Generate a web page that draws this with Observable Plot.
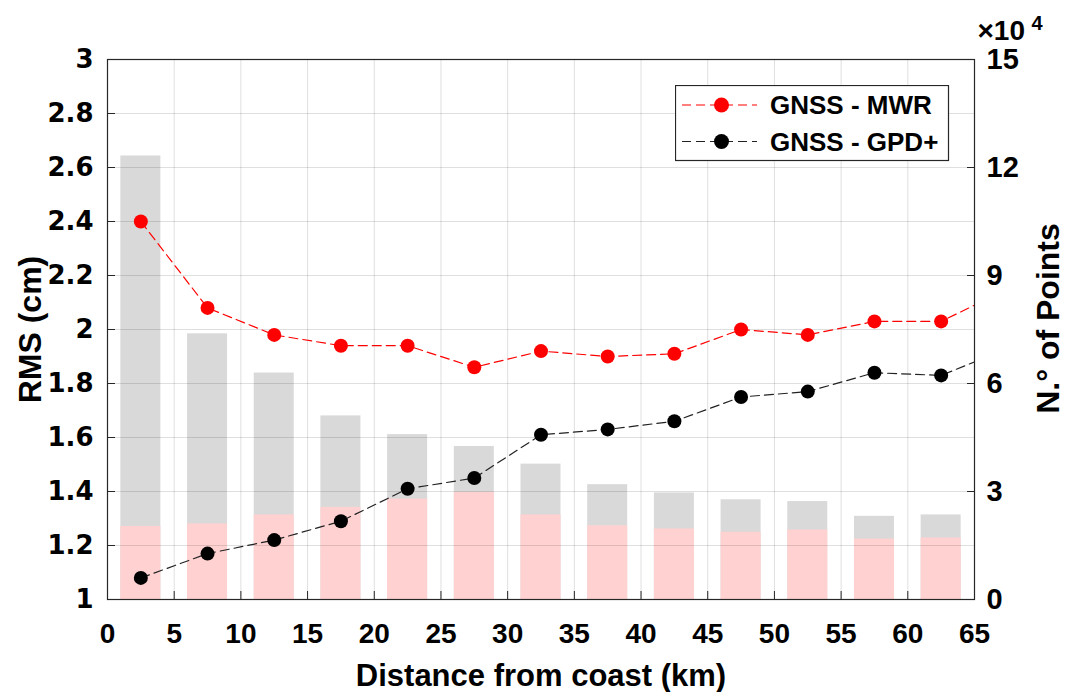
<!DOCTYPE html>
<html><head><meta charset="utf-8">
<script src="https://cdn.jsdelivr.net/npm/d3@7"></script>
<script src="https://cdn.jsdelivr.net/npm/@observablehq/plot@0.6"></script>
<style>
html,body{margin:0;padding:0;background:#fff;}
#wrap{position:relative;width:1067px;height:692px;}
#legend{position:absolute;left:675px;top:85px;}
</style></head><body><div id="wrap"></div>
<script>
// ---- data ----
const distance = [2.5, 7.5, 12.5, 17.5, 22.5, 27.5, 32.5, 37.5, 42.5, 47.5, 52.5, 57.5, 62.5];
const totalPoints = [123200, 73800, 62900, 51000, 45800, 42500, 37600, 31900, 29600, 27700, 27200, 23100, 23500];
const pinkPoints  = [20300, 21000, 23500, 25600, 27900, 29800, 23500, 20500, 19600, 18700, 19300, 16800, 17100];
const lineDistance = [2.5, 7.5, 12.5, 17.5, 22.5, 27.5, 32.5, 37.5, 42.5, 47.5, 52.5, 57.5, 62.5, 67.5];
const rmsMWR = [2.40, 2.08, 1.98, 1.94, 1.94, 1.86, 1.92, 1.90, 1.91, 2.00, 1.98, 2.03, 2.03, 2.15];
const rmsGPD = [1.08, 1.17, 1.22, 1.29, 1.41, 1.45, 1.61, 1.63, 1.66, 1.75, 1.77, 1.84, 1.83, 1.93];
const xTicks = [0, 5, 10, 15, 20, 25, 30, 35, 40, 45, 50, 55, 60, 65];
const yTicks = [1, 1.2, 1.4, 1.6, 1.8, 2, 2.2, 2.4, 2.6, 2.8, 3];
const countTicks = [0, 3, 6, 9, 12, 15]; // ×10^4
const seriesNames = ["GNSS - MWR", "GNSS - GPD+"];
const seriesColors = ["#ff0000", "#000000"];

// right axis (counts 0..15e4) maps onto the left RMS range 1..3
const countMax = 15e4;
const toLeft = c => 1 + c / countMax * 2;
const fromLeft = v => (v - 1) / 2 * countMax;

const bars = distance.map((d, i) => ({d, total: totalPoints[i], pink: pinkPoints[i]}));
const lines = lineDistance.map((d, i) => ({d, mwr: rmsMWR[i], gpd: rmsGPD[i]}));

const FONT = "'Liberation Sans', Arial, sans-serif";
const grid = {stroke: "#262626", strokeOpacity: 0.15, strokeWidth: 1};

const chart = Plot.plot({
  width: 1067, height: 692,
  marginLeft: 107, marginRight: 93, marginTop: 59, marginBottom: 93,
  x: {domain: [0, 65]},
  y: {domain: [1, 3]},
  style: {fontFamily: FONT, fontWeight: "bold", fontSize: "28px", color: "#000", background: "#fff", overflow: "visible"},
  marks: [
    Plot.rectY(bars, {x1: d => d.d - 1.5, x2: d => d.d + 1.5, y1: 1, y2: d => toLeft(d.total), fill: "#d9d9d9"}),
    Plot.rectY(bars, {x1: d => d.d - 1.5, x2: d => d.d + 1.5, y1: 1, y2: d => toLeft(d.pink), fill: "#ffd1d1"}),
    Plot.gridX(xTicks, grid),
    Plot.gridY(yTicks, grid),
    Plot.line(lines, {x: "d", y: "mwr", stroke: seriesColors[0], strokeWidth: 1.2, strokeDasharray: "9,5", clip: true}),
    Plot.dot(lines, {x: "d", y: "mwr", r: 7, fill: seriesColors[0], clip: true}),
    Plot.line(lines, {x: "d", y: "gpd", stroke: "#222", strokeWidth: 1.2, strokeDasharray: "9,5", clip: true}),
    Plot.dot(lines, {x: "d", y: "gpd", r: 7, fill: seriesColors[1], clip: true}),
    Plot.frame({stroke: "#262626", strokeWidth: 1.2}),
    Plot.axisX(xTicks, {tickSize: -8, tickPadding: 32, fontSize: 28, fontFamily: FONT, fontWeight: "bold", label: null, stroke: "#262626"}),
    Plot.axisY(yTicks, {anchor: "left", tickSize: -8, tickPadding: 22, fontSize: 26, fontFamily: "'DejaVu Sans', sans-serif", fontWeight: "bold", label: null, stroke: "#262626",
      tickFormat: v => String(v)}),
    Plot.axisY(countTicks.map(c => toLeft(c * 1e4)), {anchor: "right", tickSize: -8, tickPadding: 20, fontSize: 29, fontFamily: FONT, fontWeight: "bold", label: null, stroke: "#262626",
      tickFormat: v => String(Math.round(fromLeft(v) / 1e4))}),
    Plot.text(["Distance from coast (km)"], {frameAnchor: "bottom", textAnchor: "middle", dy: 86, fontSize: 31, fontWeight: "bold", fontFamily: FONT}),
    Plot.text(["RMS (cm)"], {frameAnchor: "left", textAnchor: "middle", rotate: -90, dx: -77, fontSize: 32, fontWeight: "bold", fontFamily: FONT}),
    Plot.text(["N.° of Points"], {frameAnchor: "right", textAnchor: "middle", rotate: -90, dx: 74, dy: -11, fontSize: 32, fontWeight: "bold", fontFamily: FONT}),
    Plot.text(["×10"], {frameAnchor: "top-right", textAnchor: "start", lineAnchor: "bottom", dx: 3, dy: -20, fontSize: 28, fontWeight: "bold", fontFamily: FONT}),
    Plot.text(["4"], {frameAnchor: "top-right", textAnchor: "start", lineAnchor: "bottom", dx: 57, dy: -30, fontSize: 20, fontWeight: "bold", fontFamily: FONT})
  ]
});
const wrap = document.getElementById("wrap");
wrap.appendChild(chart);

// legend overlay
const ns = "http://www.w3.org/2000/svg";
const lg = document.createElementNS(ns, "svg");
lg.setAttribute("id", "legend");
lg.setAttribute("width", 275);
lg.setAttribute("height", 77);
let html = `<rect x="0.5" y="0.5" width="273" height="75" fill="#fff" stroke="#262626" stroke-width="1.2"/>`;
seriesNames.forEach((name, i) => {
  const cy = 20 + i * 36.5;
  const lineCol = i === 0 ? seriesColors[0] : "#222";
  html += `<line x1="7" x2="82" y1="${cy}" y2="${cy}" stroke="${lineCol}" stroke-width="1.2" stroke-dasharray="9,5"/>`;
  html += `<circle cx="46.5" cy="${cy}" r="7.5" fill="${seriesColors[i]}"/>`;
  html += `<text x="95" y="${cy + 9}" font-family="${FONT.replace(/'/g, "")}" font-weight="bold" font-size="26" fill="#000">${name}</text>`;
});
lg.innerHTML = html;
wrap.appendChild(lg);
</script></body></html>
